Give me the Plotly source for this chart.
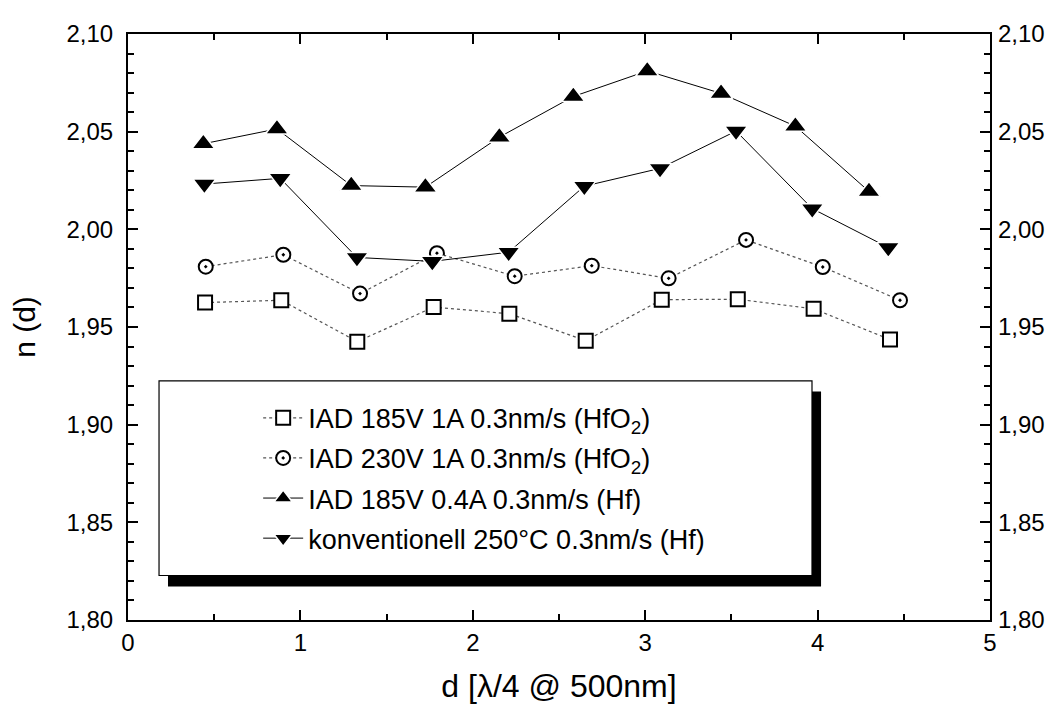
import plotly.graph_objects as go

# Data
x_sq = [0.447, 0.889, 1.330, 1.773, 2.212, 2.655, 3.096, 3.537, 3.977, 4.420]
y_sq = [1.9625, 1.9637, 1.9425, 1.9602, 1.9568, 1.9430, 1.9640, 1.9642, 1.9593, 1.9436]

x_ci = [0.451, 0.901, 1.346, 1.792, 2.243, 2.690, 3.136, 3.585, 4.030, 4.478]
y_ci = [1.9809, 1.9870, 1.9671, 1.9878, 1.9760, 1.9814, 1.9749, 1.9946, 1.9807, 1.9637]

x_up = [0.437, 0.864, 1.295, 1.725, 2.154, 2.583, 3.012, 3.440, 3.871, 4.298]
y_up = [2.0438, 2.0514, 2.0224, 2.0216, 2.0472, 2.0680, 2.0811, 2.0696, 2.0528, 2.0194]

x_dn = [0.443, 0.883, 1.328, 1.765, 2.208, 2.647, 3.086, 3.527, 3.969, 4.410]
y_dn = [2.0232, 2.0261, 1.9856, 1.9836, 1.9883, 2.0221, 2.0312, 2.0503, 2.0106, 1.9907]

names = [
    "IAD 185V 1A 0.3nm/s (HfO<sub>2</sub>)",
    "IAD 230V 1A 0.3nm/s (HfO<sub>2</sub>)",
    "IAD 185V 0.4A 0.3nm/s (Hf)",
    "konventionell 250°C 0.3nm/s (Hf)",
]

x_range = [0, 5]
y_range = [1.80, 2.10]

FONT = "Liberation Sans, Arial, sans-serif"

fig = go.Figure()

fig.add_trace(go.Scatter(
    x=x_sq, y=y_sq, name=names[0], mode="lines+markers", legendgroup="a",
    line=dict(color="#555555", width=1.2, dash="dot"),
    marker=dict(symbol="square", size=14, color="white",
                line=dict(color="black", width=2)),
))
fig.add_trace(go.Scatter(
    x=x_ci, y=y_ci, name=names[1], mode="lines+markers", legendgroup="b",
    line=dict(color="#555555", width=1.2, dash="dot"),
    marker=dict(symbol="circle-dot", size=14, color="white",
                line=dict(color="black", width=2)),
))
fig.add_trace(go.Scatter(
    x=x_up, y=y_up, name=names[2], mode="lines+markers", legendgroup="c",
    line=dict(color="black", width=1),
    marker=dict(symbol="triangle-up", size=20, color="black",
                line=dict(color="white", width=1.5)),
))
fig.add_trace(go.Scatter(
    x=x_dn, y=y_dn, name=names[3], mode="lines+markers", legendgroup="d",
    line=dict(color="black", width=1),
    marker=dict(symbol="triangle-down", size=20, color="black",
                line=dict(color="white", width=1.5)),
))
# invisible trace to activate the right-hand axis
fig.add_trace(go.Scatter(
    x=[x_range[0]], y=[y_range[0]], yaxis="y2", mode="markers",
    marker=dict(opacity=0), showlegend=False, hoverinfo="skip",
))

# legend box with shadow
fig.add_shape(type="rect", xref="paper", yref="paper",
              x0=0.0464, x1=0.804, y0=0.0573, y1=0.39,
              fillcolor="black", line=dict(width=0), layer="above")
fig.add_shape(type="rect", xref="paper", yref="paper",
              x0=0.036, x1=0.7935, y0=0.0759, y1=0.408,
              fillcolor="white", line=dict(color="black", width=1.2), layer="above")

axis_common = dict(
    showgrid=False, zeroline=False, showline=True, linecolor="black", linewidth=2,
    ticks="inside", ticklen=10, tickwidth=2, tickcolor="black",
    tickfont=dict(family=FONT, size=24, color="black"),
)

fig.update_layout(
    width=1062, height=706,
    margin=dict(l=120, r=80, t=19, b=94),
    paper_bgcolor="white", plot_bgcolor="white",
    separators=",.",
    font=dict(family=FONT, color="black"),
    xaxis=dict(
        range=x_range, dtick=1, tick0=0, mirror="ticks",
        minor=dict(dtick=0.5, ticks="inside", ticklen=6, tickwidth=1.5, tickcolor="black"),
        title=dict(text="d [λ/4 @ 500nm]", font=dict(family=FONT, size=32), standoff=20),
        **axis_common,
    ),
    yaxis=dict(
        range=y_range, dtick=0.05, tick0=1.8, tickformat=".2f", mirror="ticks",
        ticklabelstandoff=8,
        minor=dict(dtick=0.01, ticks="inside", ticklen=6, tickwidth=1.5, tickcolor="black"),
        title=dict(text="n (d)", font=dict(family=FONT, size=30), standoff=22),
        **axis_common,
    ),
    yaxis2=dict(
        range=y_range, dtick=0.05, tick0=1.8, tickformat=".2f", overlaying="y",
        side="right", showgrid=False, zeroline=False, showline=False, ticks="",
        ticklabelstandoff=7,
        tickfont=dict(family=FONT, size=24, color="black"),
    ),
    legend=dict(
        x=0.151, y=0.386, xanchor="left", yanchor="top",
        bgcolor="rgba(0,0,0,0)", borderwidth=0,
        font=dict(family=FONT, size=27, color="black"),
        tracegroupgap=2, traceorder="grouped", itemwidth=40,
    ),
    showlegend=True,
)

fig.write_html("out.html")
